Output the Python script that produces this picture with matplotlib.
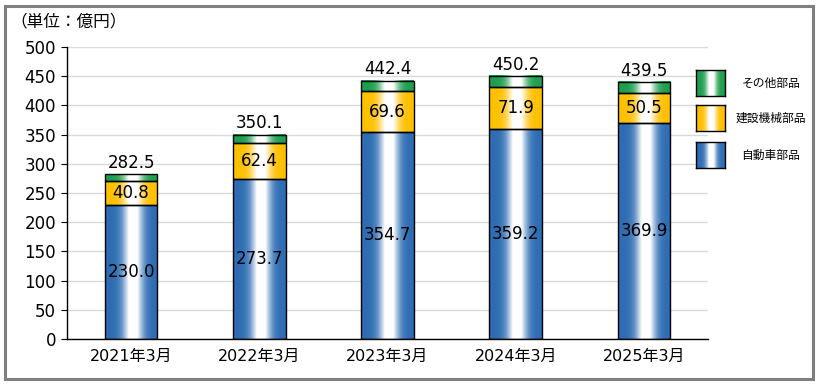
import numpy as np
import matplotlib
matplotlib.use("Agg")
import matplotlib.pyplot as plt
from matplotlib.colors import to_rgb
from matplotlib.patches import Rectangle

plt.rcParams['font.family'] = ['DejaVu Sans', 'Noto Sans CJK JP']
CJK = ['Noto Sans CJK JP', 'DejaVu Sans']

categories = ["2021年3月", "2022年3月", "2023年3月", "2024年3月", "2025年3月"]
auto_parts = [230.0, 273.7, 354.7, 359.2, 369.9]
construction_parts = [40.8, 62.4, 69.6, 71.9, 50.5]
other_parts = [11.7, 14.0, 18.1, 19.1, 19.1]
totals = [282.5, 350.1, 442.4, 450.2, 439.5]
series_names = ["自動車部品", "建設機械部品", "その他部品"]
series_colors = ["#2E6DB4", "#FFC000", "#1E9E4E"]

fig = plt.figure(figsize=(8.2, 3.85), dpi=100)
ax = fig.add_axes([67/820, 1-339/385, 641/820, 292/385])

x = np.arange(len(categories))
w = 0.41

def gradient_image(color):
    c = np.array(to_rgb(color))
    t = np.linspace(0, 1, 300)
    f = np.exp(-((t - 0.53) / 0.18) ** 2)
    f = np.clip(f * 1.2, 0, 1)
    img = c[None, :] * (1 - f[:, None]) + np.ones(3)[None, :] * f[:, None]
    return img[None, :, :]

series = [auto_parts, construction_parts, other_parts]
bottom = np.zeros(len(categories))
for vals, col in zip(series, series_colors):
    bars = ax.bar(x, vals, w, bottom=bottom, facecolor='none', edgecolor='black', linewidth=1.0, zorder=3)
    img = gradient_image(col)
    for b in bars:
        ax.imshow(img, extent=[b.get_x(), b.get_x() + b.get_width(), b.get_y(), b.get_y() + b.get_height()],
                  aspect='auto', zorder=2, interpolation='bilinear')
    bottom = bottom + np.array(vals)

for i in range(len(categories)):
    ax.text(x[i], auto_parts[i] / 2, f"{auto_parts[i]:.1f}", ha='center', va='center', fontsize=12, zorder=4)
    ax.text(x[i], auto_parts[i] + construction_parts[i] / 2, f"{construction_parts[i]:.1f}",
            ha='center', va='center', fontsize=12, zorder=4)
    ax.text(x[i], totals[i] + 4, f"{totals[i]:.1f}", ha='center', va='bottom', fontsize=12, zorder=4)

ax.set_xlim(-0.5, len(categories) - 0.5)
ax.set_ylim(0, 500)
ax.set_yticks(np.arange(0, 501, 50))
ax.yaxis.grid(True, color='#D9D9D9', linewidth=1.0, zorder=0)
ax.set_axisbelow(True)
ax.set_xticks(x)
ax.set_xticklabels(categories, fontsize=11.5)
ax.tick_params(axis='x', length=0, pad=7)
ax.tick_params(axis='y', labelsize=12, length=4, direction='out', pad=4)
for s in ['top', 'right']:
    ax.spines[s].set_visible(False)
ax.spines['left'].set_linewidth(1.0)
ax.spines['bottom'].set_linewidth(1.0)

fig.text(10/820, 1-22/385, "（単位：億円）", fontsize=12, ha='left', va='center', family=CJK)

# legend
leg_items = list(zip(series_names, series_colors))[::-1]
leg_y = [83, 118, 155]
for (name, col), yy in zip(leg_items, leg_y):
    lax = fig.add_axes([696/820, 1-(yy+13)/385, 29/820, 26/385])
    lax.imshow(gradient_image(col), aspect='auto', extent=[0, 1, 0, 1], interpolation='bilinear')
    lax.set_xticks([]); lax.set_yticks([])
    for s in lax.spines.values():
        s.set_linewidth(1.0)
    fig.text(771/820, 1-yy/385, name, fontsize=8.5, ha='center', va='center', family=CJK)

fig.patches.append(Rectangle((5/820, 6/385), 808/820, 373/385, transform=fig.transFigure,
                             fill=False, edgecolor='#7F7F7F', linewidth=2.2))

fig.savefig("out.png", dpi=100)
